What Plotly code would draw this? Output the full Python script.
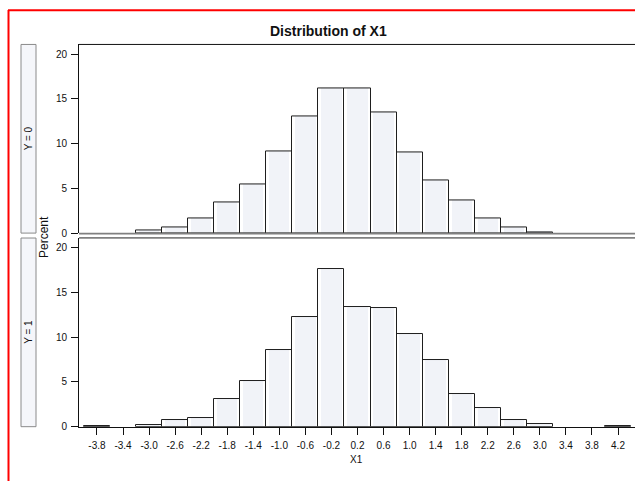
import plotly.graph_objects as go

# Bin midpoints of X1 and their axis labels
bin_centers = [-3.8, -3.4, -3.0, -2.6, -2.2, -1.8, -1.4, -1.0, -0.6, -0.2,
               0.2, 0.6, 1.0, 1.4, 1.8, 2.2, 2.6, 3.0, 3.4, 3.8, 4.2]
tick_labels = ["-3.8", "-3.4", "-3.0", "-2.6", "-2.2", "-1.8", "-1.4", "-1.0",
               "-0.6", "-0.2", "0.2", "0.6", "1.0", "1.4", "1.8", "2.2",
               "2.6", "3.0", "3.4", "3.8", "4.2"]

# Percent of observations per bin, by group
pct_y0 = [0, 0, 0.3, 0.6, 1.6, 3.4, 5.4, 9.1, 13.0, 16.2,
          16.2, 13.5, 9.0, 5.9, 3.7, 1.6, 0.6, 0.1, 0, 0, 0]
pct_y1 = [0.1, 0, 0.2, 0.7, 1.0, 3.1, 5.1, 8.6, 12.3, 17.6,
          13.4, 13.3, 10.4, 7.5, 3.7, 2.1, 0.7, 0.3, 0, 0, 0.1]

panel_labels = ["Y = 0", "Y = 1"]

W, H = 635, 487
BIN_W = 0.4


def px(x):
    return x / W


def py(y):
    return 1 - y / H


FONT = "Liberation Sans, Arial, sans-serif"
fig = go.Figure()


def add_hist(values, xa, ya):
    shown = [v if v > 0 else None for v in values]
    # soft inner fill
    fig.add_trace(go.Bar(x=bin_centers, y=shown, width=BIN_W * 0.78,
                         marker=dict(color="#f1f3f8", line=dict(width=0)),
                         xaxis=xa, yaxis=ya, hoverinfo="skip", showlegend=False))
    # bar outline
    fig.add_trace(go.Bar(x=bin_centers, y=shown, width=BIN_W,
                         marker=dict(color="rgba(0,0,0,0)",
                                     line=dict(color="#1e1e1e", width=1)),
                         xaxis=xa, yaxis=ya, showlegend=False))


add_hist(pct_y0, "x2", "y2")
add_hist(pct_y1, "x", "y")

x_range = [-4.076, 4.461]
x_dom = [px(79), 1.0]
top_dom = [py(236), py(45)]
bot_dom = [py(432), py(241)]
tick_font = dict(family=FONT, size=10, color="#111")

fig.update_layout(
    width=W, height=H,
    margin=dict(l=0, r=0, t=0, b=0),
    paper_bgcolor="white", plot_bgcolor="white",
    barmode="overlay", bargap=0,
    showlegend=False,
    xaxis=dict(domain=x_dom, range=x_range, tickvals=bin_centers,
               ticktext=tick_labels, ticks="outside", ticklen=7,
               tickcolor="#111", showline=True, linecolor="#111",
               linewidth=1, showgrid=False, zeroline=False,
               ticklabelstandoff=2, tickfont=tick_font),
    yaxis=dict(domain=bot_dom, range=[0, 21.1], tickvals=[0, 5, 10, 15, 20],
               ticks="outside", ticklen=7, tickcolor="#111",
               showline=True, linecolor="#111", linewidth=1,
               ticklabelstandoff=2,
               showgrid=False, zeroline=False, tickfont=tick_font),
    xaxis2=dict(domain=x_dom, range=x_range, anchor="y2", showticklabels=False,
                ticks="", showline=False, showgrid=False, zeroline=False),
    yaxis2=dict(domain=top_dom, range=[0, 21.1], anchor="x2",
                tickvals=[0, 5, 10, 15, 20], ticks="outside", ticklen=7,
                tickcolor="#111", showline=True, linecolor="#111", linewidth=1,
                ticklabelstandoff=2,
                showgrid=False, zeroline=False, tickfont=tick_font),
)

shapes = []
# frame top and panel separators
shapes.append(dict(type="line", xref="paper", yref="paper",
                   x0=px(79), x1=1, y0=py(45), y1=py(45),
                   line=dict(color="#111", width=1)))
shapes.append(dict(type="line", xref="paper", yref="paper",
                   x0=px(79), x1=1, y0=py(236.5), y1=py(236.5),
                   line=dict(color="#808080", width=1.7)))
shapes.append(dict(type="line", xref="paper", yref="paper",
                   x0=px(79), x1=1, y0=py(240.8), y1=py(240.8),
                   line=dict(color="#808080", width=1.7)))
# strip boxes on the left
for (y0, y1) in [(45, 236), (241, 432)]:
    shapes.append(dict(type="rect", xref="paper", yref="paper",
                       x0=px(21), x1=px(36), y0=py(y1), y1=py(y0),
                       fillcolor="#f5f6fa", line=dict(color="#8a8a8a", width=1)))
# outer red border
shapes.append(dict(type="line", xref="paper", yref="paper",
                   x0=px(8), x1=1, y0=py(10.5), y1=py(10.5),
                   line=dict(color="#ff0000", width=2)))
shapes.append(dict(type="line", xref="paper", yref="paper",
                   x0=px(8.5), x1=px(8.5), y0=0, y1=py(10),
                   line=dict(color="#ff0000", width=2)))
fig.update_layout(shapes=shapes)


def label(text, x, y, size, angle=0, bold=False):
    return dict(text=f"<b>{text}</b>" if bold else text,
                x=px(x), y=py(y), xref="paper", yref="paper",
                xanchor="center", yanchor="middle", showarrow=False,
                textangle=angle,
                font=dict(family=FONT, size=size, color="#111"))


annotations = [
    label("Distribution of X1", 328, 31, 14, bold=True),
    label("Percent", 44, 240, 12, angle=-90),
    label("X1", 356, 465, 10),
]
for text, (y0, y1) in zip(panel_labels, [(45, 236), (241, 432)]):
    annotations.append(label(text, 28.5, (y0 + y1) / 2, 10, angle=-90))
fig.update_layout(annotations=annotations)

fig.write_html("out.html")
